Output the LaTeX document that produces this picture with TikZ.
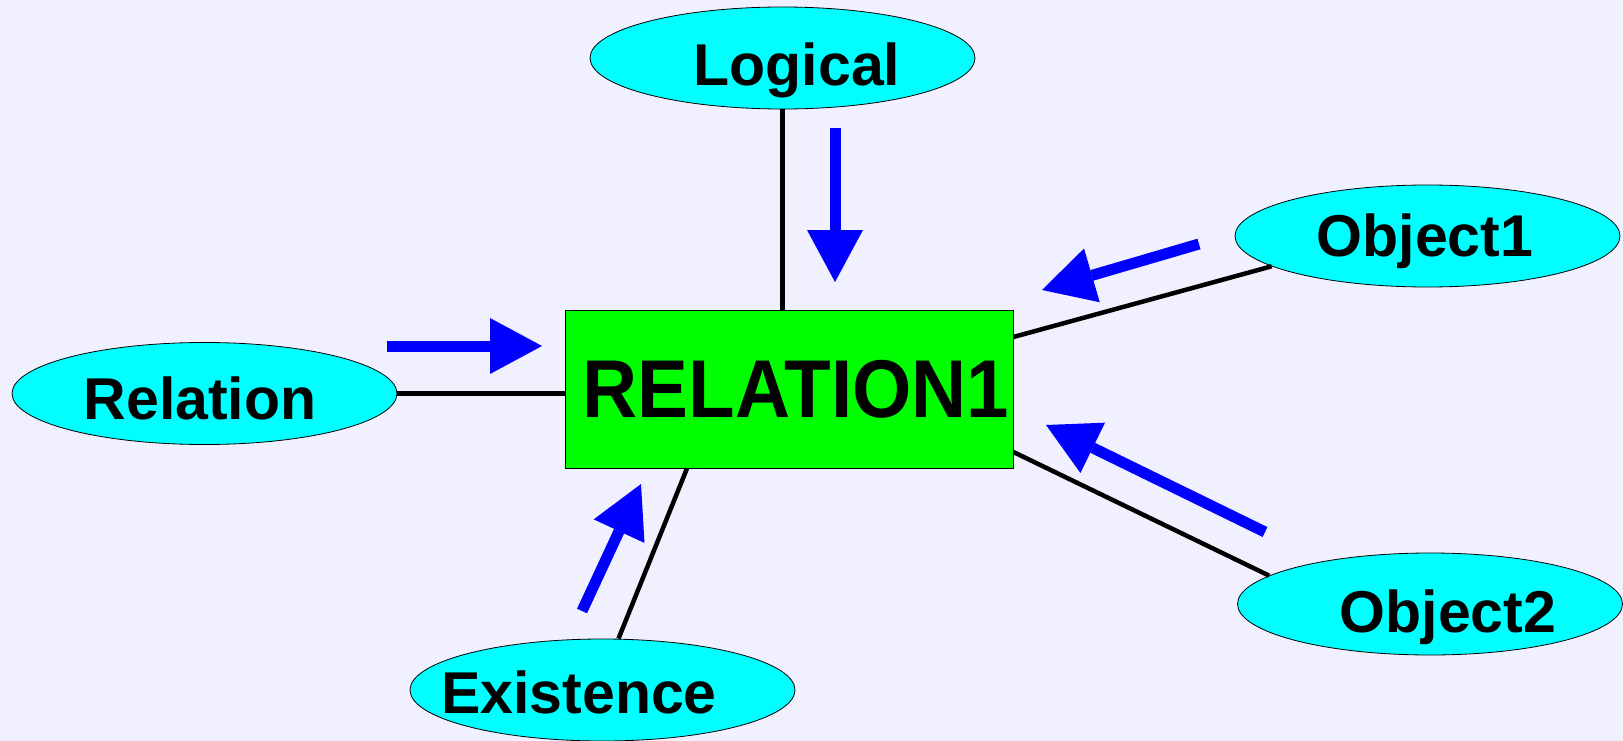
\documentclass[tikz,border=0pt]{standalone}
\usepackage{fontspec}
\setmainfont{Liberation Sans}
\usetikzlibrary{shapes.geometric,arrows.meta,calc}
\definecolor{bg}{HTML}{F0F0FF}
\definecolor{cyanfill}{HTML}{00FFFF}
\definecolor{greenfill}{HTML}{00FF00}
\definecolor{flowblue}{HTML}{0000FF}
\begin{document}
\begin{tikzpicture}[x=1pt,y=-1pt,
  ell/.style={ellipse,draw=black,line width=0.8pt,fill=cyanfill,minimum width=385pt,minimum height=102pt,inner sep=0pt},
  box/.style={rectangle,draw=black,line width=0.8pt,fill=greenfill,minimum width=448pt,minimum height=158pt,inner sep=0pt},
  lbl/.style={font=\bfseries\fontsize{59}{59}\selectfont,anchor=base,inner sep=0pt},
  biglbl/.style={font=\bfseries\fontsize{82}{82}\selectfont,anchor=base,inner sep=0pt},
  link/.style={line width=4.5pt,draw=black},
  flow/.style={line width=11pt,draw=flowblue,-{Triangle[length=52pt,width=56pt,line width=0pt]}}
]
\useasboundingbox (0,0) rectangle (1623,741);
\fill[bg] (0,0) rectangle (1623,741);

\node[ell] (L) at (782.5,58) {};
\node[ell] (Rel) at (204.5,393.5) {};
\node[ell] (E) at (602.5,690) {};
\node[ell] (O1) at (1427.5,236) {};
\node[ell] (O2) at (1430,604) {};
\node[box] (R) at (789,389) {};

\node[lbl] (Ltxt) at (797,86) {Logical};
\node[lbl] (Reltxt) at (200,419) {Relation};
\node[lbl] (Etxt) at (579,713) {Existence};
\node[lbl] (O1txt) at (1425,256) {Object1};
\node[lbl] (O2txt) at (1448,632) {Object2};
\node[biglbl] (Rtxt) at (796,417) {\scalebox{0.93}[1]{RELATION1}};

\draw[link] (L.south) -- (L.south |- R.north);
\draw[link] (Rel.east) -- (Rel.east -| R.west);
\draw[link] ([xshift=16pt]E.north) -- ([xshift=-102pt]R.south);
\draw[link] ([yshift=52pt]R.east) -- (O1.191);
\draw[link] ([yshift=-63pt]R.east) -- (O2.170);

\coordinate (a1s) at (835,128); \coordinate (a1e) at (835,282);
\coordinate (a2s) at (387,346); \coordinate (a2e) at (542,346);
\coordinate (a3s) at (582,611); \coordinate (a3e) at (641,484);
\coordinate (a4s) at (1199,244); \coordinate (a4e) at (1042,290);
\coordinate (a5s) at (1265,532); \coordinate (a5e) at (1046,425);
\draw[flow] (a1s) -- (a1e);
\draw[flow] (a2s) -- (a2e);
\draw[flow] (a3s) -- (a3e);
\draw[flow] (a4s) -- (a4e);
\draw[flow] (a5s) -- (a5e);
\end{tikzpicture}
\end{document}
